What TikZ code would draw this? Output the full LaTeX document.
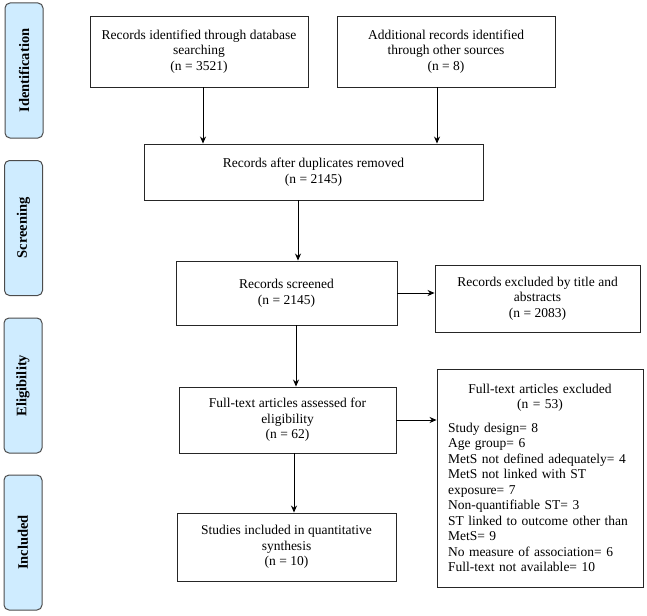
\documentclass[tikz,border=0pt]{standalone}
\usepackage{fontspec}
\setmainfont{Liberation Serif}
\usetikzlibrary{positioning,shapes,arrows.meta}
\definecolor{phaseblue}{RGB}{207,236,255}

\begin{document}
\begin{tikzpicture}[->,>={Stealth[length=7pt,width=6pt]},x=1pt,y=1pt,line width=0.9pt]
  \tikzstyle{every node}=[font=\fontsize{13.5}{15.5}\selectfont]
  \tikzstyle{box}=[draw=black!85,line width=0.9pt,fill=white,align=center,inner sep=0pt]
  \tikzstyle{phase}=[draw=black!70,line width=1pt,fill=phaseblue,rounded corners=5pt,rotate=90,
                     minimum width=135pt,minimum height=38pt,
                     font=\fontsize{14.5}{17}\selectfont\bfseries]

  \useasboundingbox (0,0) rectangle (647,-615);

  \node[phase] (idp) at (24,-70.5)  {Identification};
  \node[phase] (scp) at (23.5,-228) {Screening};
  \node[phase] (elp) at (23,-385.5) {Eligibility};
  \node[phase] (inp) at (23,-542.5) {Included};

  \node[box,minimum width=218pt,minimum height=71pt] (db)    at (199,-51.5)
       {Records identified through database\\searching\\(n = 3521)};
  \node[box,minimum width=218pt,minimum height=71pt] (other) at (446,-51.5)
       {Additional records identified\\through other sources\\(n = 8)};
  \node[box,minimum width=339pt,minimum height=56pt] (dup)   at (313.5,-172)
       {Records after duplicates removed\\(n = 2145)};
  \node[box,minimum width=221pt,minimum height=64pt] (scr)   at (286.5,-293)
       {Records screened\\(n = 2145)};
  \node[box,minimum width=205pt,minimum height=67pt] (excl)  at (537.5,-298.5)
       {Records excluded by title and\\abstracts\\(n = 2083)};
  \node[box,minimum width=217pt,minimum height=66pt] (elig)  at (287.5,-420)
       {Full-text articles assessed for\\eligibility\\(n = 62)};
  \node[box,minimum width=219pt,minimum height=68pt] (incl)  at (286.5,-547)
       {Studies included in quantitative\\synthesis\\(n = 10)};
  \node[box,minimum width=206pt,minimum height=218pt,text width=184pt,align=left] (ftex) at (540,-478)
       {{\centering Full-text articles excluded\\(n = 53)\par}\vspace{8pt}%
        Study design= 8\\Age group= 6\\MetS not defined adequately= 4\\
        MetS not linked with ST\\exposure= 7\\Non-quantifiable ST= 3\\
        ST linked to outcome other than\\MetS= 9\\No measure of association= 6\\
        Full-text not available= 10};

  \path ([xshift=4pt]db.south)      edge ([xshift=4pt]db.south |- dup.north)
        ([xshift=-9pt]other.south)  edge ([xshift=-9pt]other.south |- dup.north)
        ([xshift=-15.5pt]dup.south) edge ([xshift=-15.5pt]dup.south |- scr.north)
        (scr.east)                  edge (scr.east -| excl.west)
        ([xshift=9.5pt]scr.south)   edge ([xshift=9.5pt]scr.south |- elig.north)
        (elig.east)                 edge (elig.east -| ftex.west)
        ([xshift=6.5pt]elig.south)  edge ([xshift=6.5pt]elig.south |- incl.north);
\end{tikzpicture}
\end{document}
